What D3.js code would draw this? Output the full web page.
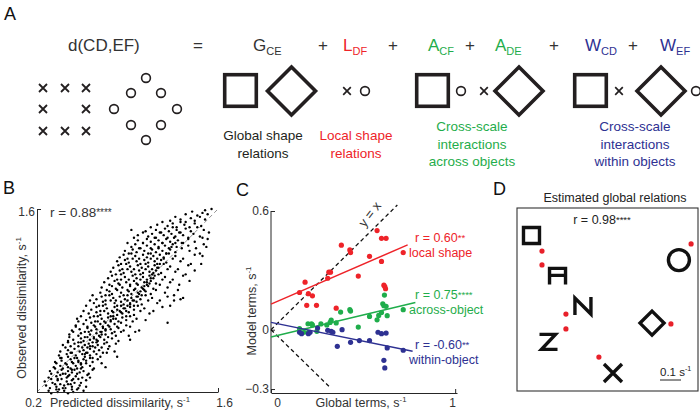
<!DOCTYPE html>
<html><head><meta charset="utf-8">
<script src="https://cdn.jsdelivr.net/npm/d3@7"></script>
<style>body{margin:0;background:#fff}svg{display:block;font-family:"Liberation Sans",Arial,sans-serif}</style>
</head><body><svg id="c" width="700" height="416"></svg>
<script>
// ---------------- DATA ----------------
// Panel B: predicted (x) vs observed (y) dissimilarity, hundredths of s^-1
const bPoints = [
"29,21 31,19 35,22 36,20 40,23 41,21 44,19 47,22 48,20 52,23 56,21",
"27,25 30,23 34,26 35,24 37,22 41,25 42,23 46,26 47,24 51,22 53,25 58,24",
"26,28 31,30 32,27 36,29 38,26 39,30 43,28 44,26 47,29 49,27 52,30 54,27 58,29",
"29,31 31,34 35,32 36,30 38,33 42,34 43,31 45,33 48,30 50,32 51,34 55,31 59,33 61,31",
"30,36 34,38 36,35 39,37 40,34 44,36 46,38 47,35 49,37 53,35 54,38 56,36 60,34 63,37",
"33,39 35,42 38,40 40,38 43,41 44,39 48,42 50,40 51,38 54,41 55,39 58,42 61,40 64,38 73,39",
"34,43 38,46 39,44 42,42 46,45 47,43 49,46 52,44 54,42 56,45 58,44 61,46 63,43 67,45 70,42",
"37,48 39,46 43,49 44,47 47,50 50,48 51,46 55,49 57,47 58,50 61,48 63,46 66,49 69,47 74,50 82,47",
"38,51 42,54 44,52 46,50 49,53 53,51 55,54 56,52 59,50 61,53 64,51 65,54 68,52 71,50 75,53 80,51",
"40,56 44,58 46,55 49,57 52,55 54,58 57,56 59,54 60,57 63,55 66,58 67,56 70,54 72,57 76,55 81,57",
"44,59 45,62 48,60 52,58 54,61 56,59 59,62 61,60 63,58 64,61 67,59 69,62 72,60 74,58 78,61 83,59",
"45,64 48,66 52,63 54,65 57,62 60,66 61,64 64,62 66,65 68,63 70,66 73,64 75,62 78,65 81,63 85,66 91,63",
"47,67 50,70 53,68 57,66 59,69 62,67 65,70 66,68 69,66 71,69 73,67 76,70 77,68 80,66 83,69 87,67 92,70 99,67",
"50,71 52,74 56,72 59,70 62,73 64,71 67,74 69,72 71,70 73,73 75,71 77,74 80,72 82,70 85,73 89,71 94,74 121,73",
"51,76 54,78 58,75 61,77 65,74 67,78 70,76 72,74 75,77 77,75 79,78 81,76 83,74 86,77 89,75 92,78 97,76 104,75",
"56,82 60,80 64,78 66,81 69,79 72,82 75,80 77,78 79,81 82,79 84,82 86,80 89,78 91,81 95,79 100,82 107,80",
"58,86 62,83 66,85 69,82 71,86 74,84 78,82 80,85 82,83 85,86 87,84 89,82 92,85 95,83 98,86 103,84 110,82 117,85",
"61,90 64,88 68,86 71,89 73,87 77,90 80,88 82,86 85,89 87,87 90,90 92,88 95,86 97,89 101,87 106,90 113,88 123,86",
"63,94 66,91 70,93 73,90 76,94 79,92 81,90 84,93 88,91 90,94 93,92 95,90 98,93 100,91 104,94 109,92 115,90 121,93 131,91",
"69,96 73,94 76,97 78,95 82,98 85,96 87,94 91,97 93,95 95,98 98,96 101,94 104,97 108,95 112,98 119,96 126,94",
"70,100 74,98 78,101 81,99 84,102 86,100 90,98 92,101 96,99 98,102 101,100 103,98 106,101 110,99 115,102 121,100 129,98",
"72,104 76,102 80,105 83,103 85,106 89,104 92,102 95,105 97,103 100,106 103,104 105,102 108,105 112,103 117,106 123,104 130,102 138,105",
"75,107 78,109 82,106 85,110 88,108 91,106 94,109 97,107 100,110 102,108 105,106 107,109 110,107 114,110 119,108 125,106 133,109",
"77,112 81,110 84,113 87,111 90,114 93,112 96,110 99,113 102,111 104,114 107,112 109,110 112,113 116,111 121,114 127,112 135,110 142,113",
"79,115 83,117 86,114 89,118 92,116 95,114 98,117 101,115 104,118 106,116 109,114 111,117 114,115 118,118 123,116 129,114 137,117",
"82,120 85,118 88,121 91,119 94,122 97,120 100,118 103,121 106,119 108,122 111,120 113,118 116,121 120,119 125,122 131,120 139,118",
"84,123 87,125 90,122 93,126 96,124 99,122 102,125 105,123 108,126 110,124 113,122 115,125 118,123 122,126 127,124 133,122 142,125 147,118",
"88,128 91,126 94,129 97,127 100,130 103,128 106,126 109,129 112,127 114,130 117,128 120,126 123,129 127,127 132,130 138,128 146,126",
"90,134 93,131 96,133 99,130 102,134 105,132 108,130 111,133 114,131 117,134 119,132 122,130 125,133 128,131 132,134 137,132 143,130 149,133",
"95,138 98,136 102,134 105,137 108,135 111,138 114,136 117,134 120,137 123,135 126,138 129,136 133,134 137,137 142,135 148,138",
"93,144 98,140 102,142 106,139 109,141 112,138 115,142 118,140 121,138 124,141 127,139 130,142 133,140 137,138 141,141 146,139",
"104,143 108,146 112,144 116,142 119,145 122,143 125,146 128,144 131,142 135,145 139,143 144,146 149,144",
"113,148 117,150 121,147 125,149 128,146 131,150 134,148 138,146 142,149 147,147",
"123,151 127,154 131,152 135,150 139,153 142,151 146,154 150,152",
"135,156 140,158 144,155 148,157 152,156 150,159 155,160",
"126,90 133,92 152,137 153,142 151,131 148,124 96,66 92,60",
"66,60 70,64 73,68 79,76 85,81 90,86 94,90 97,93 100,97 103,101 105,104 108,107 110,111 113,115 115,118",
"118,122 120,126 124,131 127,134 57,49 52,43 47,37 44,32 61,55 88,84 92,87 99,95 102,99 107,103 111,109"
].join(" ");

// Panel C: global terms (x) vs model terms (y), s^-1
const cLocal  = [[.155,.188],[.185,.240],[.203,.182],[.225,.171],[.194,.123],[.247,.123],[.314,.291],[.323,.291],[.308,.260],[.382,.427],[.428,.403],[.432,.390],[.474,.271],[.535,.371],[.576,.501],[.600,.462],[.625,.462],[.600,.345],[.613,.225],[.618,.218],[.622,.207],[.718,.390],[.354,.109]];
const cAcross = [[.155,.005],[.179,-.013],[.201,.030],[.220,.030],[.203,-.013],[.225,.024],[.249,-.008],[.271,.029],[.321,.037],[.327,.049],[.354,.034],[.378,.089],[.428,.101],[.432,.094],[.474,.013],[.535,.067],[.576,.050],[.585,.072],[.600,.087],[.607,.131],[.613,.121],[.625,.118],[.631,.071],[.616,.175],[.718,.101],[.303,.024]];
const cWithin = [[.155,-.013],[.166,-.020],[.203,-.020],[.212,-.013],[.253,.008],[.308,-.003],[.327,-.008],[.336,-.013],[.360,-.084],[.386,.000],[.432,-.064],[.480,-.055],[.535,-.055],[.581,-.013],[.600,-.020],[.625,-.017],[.631,-.092],[.613,-.155],[.618,-.193],[.718,-.104]];
const cSeriesNames = ["local shape","across-object","within-object"];
const cSeriesR     = ["r = 0.60","r = 0.75","r = -0.60"];
const cSeriesStars = ["**","****","**"];
const cFitIntercept = [0.129, -0.037, 0.037];
const cFitSlope     = [0.404, 0.223, -0.190];
const cFitEnd       = [0.742, 0.784, 0.769];
const cIdentity = [[0,0],[0.686,0.63]];
const cMirror   = [[0,0],[0.323,-0.294]];

// Panel D: estimated global relations (2D embedding, s^-1)
const dShapes = [
  {s:"square",  x:.069, y:.131},
  {s:"A",       x:.193, y:.321},
  {s:"N",       x:.314, y:.467},
  {s:"Z",       x:.150, y:.640},
  {s:"X",       x:.457, y:.786},
  {s:"diamond", x:.643, y:.548},
  {s:"O",       x:.771, y:.248}
];
const dDots = [[.119,.205],[.119,.271],[.233,.505],[.233,.576],[.390,.710],[.733,.552],[.829,.171]];

// ---------------- STYLE ----------------
const svg = d3.select("#c");
const INK = "#231f20", AX = "#262626";
const RED = "#ee2329", GREEN = "#1fad4b", BLUE = "#2e3192";
const cColors = [RED, GREEN, BLUE];

function txt(x, y, s, o = {}) {
  return svg.append("text").attr("x", x).attr("y", y)
    .attr("font-size", o.size || 12).attr("fill", o.fill || INK)
    .attr("text-anchor", o.anchor || "start").text(s);
}
function supLabel(g, main, sup, size) {
  g.append("tspan").text(main);
  g.append("tspan").attr("font-size", size * 0.62).attr("dy", -size * 0.42).text(sup);
}

// ---------------- PANEL LABELS ----------------
[["A",4,20],["B",3,194],["C",236,196],["D",493,195]].forEach(([l,x,y]) => txt(x,y,l,{size:18,fill:"#111"}));

// ---------------- PANEL A ----------------
const eqY = 51;
txt(68, eqY, "d(CD,EF)", {size:17, fill:"#333"});
txt(198, eqY, "=", {size:17, fill:"#333", anchor:"middle"});
const terms = [["G","CE",253,"#333"],["L","DF",343,RED],["A","CF",428,GREEN],["A","DE",495,GREEN],["W","CD",585,BLUE],["W","EF",660,BLUE]];
terms.forEach(([m,s,x,c]) => {
  const t = txt(x, eqY, "", {size:17, fill:c});
  t.append("tspan").text(m);
  t.append("tspan").attr("font-size", 11).attr("dy", 4).text(s);
});
[323,393,470,554,633].forEach(x => txt(x, eqY, "+", {size:17, fill:"#333", anchor:"middle"}));

const gA = svg.append("g").attr("fill","none").attr("stroke", INK);
function cross(x, y, h, w) { gA.append("path").attr("d", `M${x-h},${y-h}L${x+h},${y+h}M${x-h},${y+h}L${x+h},${y-h}`).attr("stroke-width", w); }
function ring(x, y, r, w) { gA.append("circle").attr("cx",x).attr("cy",y).attr("r",r).attr("stroke-width",w); }
function square(x, y, h, w) { gA.append("rect").attr("x",x-h).attr("y",y-h).attr("width",2*h).attr("height",2*h).attr("stroke-width",w); }
function diamond(x, y, h, w) { gA.append("path").attr("d",`M${x},${y-h}L${x+h},${y}L${x},${y+h}L${x-h},${y}Z`).attr("stroke-width",w).attr("stroke-linejoin","miter"); }

const crossGrid = [[43,88],[65,88],[86,88],[43,109],[86,109],[43,131],[65,131],[86,131]];
crossGrid.forEach(([x,y]) => cross(x,y,4,1.8));
const circleDiamond = [[146,78],[131,93],[161,93],[114,109],[177,109],[131,125],[161,125],[146,140]];
circleDiamond.forEach(([x,y]) => ring(x,y,4.4,1.6));
[240.5, 432.5, 590.5].forEach(x => square(x, 90.5, 15.8, 3.6));
[[291.5,24],[519,24],[661,24]].forEach(([x,h]) => diamond(x, 91, h, 3.6));
[[347,91],[484,91],[619,91]].forEach(([x,y]) => cross(x,y,3.8,1.7));
[[365,91],[461,91],[696,91]].forEach(([x,y]) => ring(x,y,4.4,1.6));

const captions = [
  [263, ["Global shape","relations"], INK, 140],
  [356, ["Local shape","relations"], RED, 140],
  [472, ["Cross-scale","interactions","across objects"], GREEN, 131],
  [635, ["Cross-scale","interactions","within objects"], BLUE, 131]
];
captions.forEach(([x, lines, c, y0]) => lines.forEach((l,i) => txt(x, y0 + i*17.5, l, {size:13.5, fill:c, anchor:"middle"})));

// ---------------- PANEL B ----------------
const bData = bPoints.trim().split(/\s+/).map(p => p.split(",").map(v => +v / 100));
const xB = d3.scaleLinear().domain([0.2, 1.6]).range([37, 218]);
const yB = d3.scaleLinear().domain([0.2, 1.6]).range([392, 209]);
svg.append("line").attr("x1", xB(0.2)).attr("y1", yB(0.2)).attr("x2", xB(1.6)).attr("y2", yB(1.6))
  .attr("stroke","#777").attr("stroke-width",0.8).attr("stroke-dasharray","4,3");
svg.append("g").selectAll("circle").data(bData).join("circle")
  .attr("cx", d => xB(d[0])).attr("cy", d => yB(d[1])).attr("r", 1.2).attr("fill", "#000");

function styleAxis(g) {
  g.select(".domain").attr("stroke", AX).attr("stroke-width", 1);
  g.selectAll(".tick line").attr("stroke", AX);
  g.selectAll("text").attr("fill", "#333").attr("font-size", 12).attr("font-family", '"Liberation Sans",Arial,sans-serif');
}
const bxAxis = svg.append("g").attr("transform","translate(0,392)")
  .call(d3.axisBottom(xB).tickValues([0.2,1.6]).tickFormat(d3.format(".1f")).tickSizeInner(-4).tickSizeOuter(0).tickPadding(6));
styleAxis(bxAxis);
bxAxis.selectAll(".tick text").attr("dx", d => d < 1 ? -4 : 6);
const byAxis = svg.append("g").attr("transform","translate(37,0)")
  .call(d3.axisLeft(yB).tickValues([0.2,1.6]).tickFormat(d => d > 1 ? "1.6" : "").tickSizeInner(-4).tickSizeOuter(0).tickPadding(2));
styleAxis(byAxis);
byAxis.selectAll(".tick text").attr("dy", "0.5em");

const rB = txt(50, 217, "", {size:13.5, fill:"#333"});
rB.append("tspan").text("r = 0.88");
rB.append("tspan").attr("font-size", 10).attr("dy", -1).text("****");
supLabel(txt(120, 407, "", {size:12.5, fill:"#333", anchor:"middle"}), "Predicted dissimilarity, s", "-1", 12.5);
supLabel(svg.append("text").attr("transform","translate(26,308) rotate(-90)").attr("text-anchor","middle")
  .attr("font-size",12.5).attr("fill","#333"), "Observed dissimilarity, s", "-1", 12.5);

// ---------------- PANEL C ----------------
const xC = d3.scaleLinear().domain([0, 1.01]).range([271, 457]);
const yC = d3.scaleLinear().domain([-0.32, 0.6]).range([393, 211]);
const cx = svg.append("g").attr("transform","translate(0,393)")
  .call(d3.axisBottom(xC).tickValues([0,1]).tickFormat(d3.format("d")).tickSizeInner(-4).tickSizeOuter(0).tickPadding(5));
styleAxis(cx);
cx.selectAll(".tick text").attr("dx", d => d === 0 ? 6 : -3);
const cy = svg.append("g").attr("transform","translate(271,0)")
  .call(d3.axisLeft(yC).tickValues([-0.3,0,0.6]).tickFormat(d => d === 0 ? "0" : d3.format(".1f")(d)).tickSizeInner(-4).tickSizeOuter(0).tickPadding(2));
styleAxis(cy);
cy.select(".domain").attr("d", `M0,${yC(0.6)}V393`);

const dashLine = d3.line().x(d => xC(d[0])).y(d => yC(d[1]));
[cIdentity, cMirror].forEach(seg => svg.append("path").attr("d", dashLine(seg)).attr("fill","none")
  .attr("stroke","#111").attr("stroke-width",1.3).attr("stroke-dasharray","4,3"));
svg.append("text").attr("transform", `translate(${xC(0.555)},${yC(0.57)}) rotate(-52)`)
  .attr("text-anchor","middle").attr("font-size",13).attr("fill","#333").text("y = x");

[cLocal, cAcross, cWithin].forEach((pts, i) => {
  svg.append("line").attr("x1", xC(0)).attr("y1", yC(cFitIntercept[i]))
    .attr("x2", xC(cFitEnd[i])).attr("y2", yC(cFitIntercept[i] + cFitSlope[i]*cFitEnd[i]))
    .attr("stroke", cColors[i]).attr("stroke-width", 1.5);
  svg.append("g").selectAll("circle").data(pts).join("circle")
    .attr("cx", d => xC(d[0])).attr("cy", d => yC(d[1])).attr("r", 2.6).attr("fill", cColors[i]);
});
const cAnnY = [242, 299, 349];
cSeriesNames.forEach((n, i) => {
  const t = txt(415, cAnnY[i], "", {size:12.5, fill:cColors[i]});
  t.append("tspan").text(cSeriesR[i]);
  t.append("tspan").attr("font-size", 9.5).attr("dy", -1).text(cSeriesStars[i]);
  txt(409, cAnnY[i] + 15, n, {size:12.5, fill:cColors[i]});
});
supLabel(txt(361, 407, "", {size:12.5, fill:"#333", anchor:"middle"}), "Global terms, s", "-1", 12.5);
supLabel(svg.append("text").attr("transform","translate(256,311) rotate(-90)").attr("text-anchor","middle")
  .attr("font-size",12.5).attr("fill","#333"), "Model terms, s", "-1", 12.5);

// ---------------- PANEL D ----------------
const sD = d3.scaleLinear().domain([0, 1]).range([0, 210]);
const D0 = [517, 208];
svg.append("rect").attr("x", D0[0]).attr("y", D0[1]).attr("width", 181).attr("height", 183)
  .attr("fill","none").attr("stroke","#333").attr("stroke-width",1.1);
txt(615, 202, "Estimated global relations", {size:12.5, fill:"#222", anchor:"middle"});
const rD = txt(602, 224, "", {size:12.5, fill:"#222", anchor:"middle"});
rD.append("tspan").text("r = 0.98");
rD.append("tspan").attr("font-size", 9.5).attr("dy", -1).text("****");

const gD = svg.append("g").attr("fill","none").attr("stroke","#111").attr("stroke-width",3.4);
const shapePath = {
  square:  "M-8,-8H8V8H-8Z",
  diamond: "M0,-12L12,0L0,12L-12,0Z",
  A:       "M-8,9V-7H8V9M-8,0H8",
  N:       "M-8,9V-8L8,8V-9",
  Z:       "M-9,-8H7L-7,7H9",
  X:       "M-9,-9L9,9M-9,9L9,-9"
};
dShapes.forEach(d => {
  const px = D0[0] + sD(d.x), py = D0[1] + sD(d.y);
  if (d.s === "O") gD.append("circle").attr("cx", px).attr("cy", py).attr("r", 10.5);
  else gD.append("path").attr("d", shapePath[d.s]).attr("transform", `translate(${px},${py})`).attr("stroke-linejoin","miter");
});
svg.append("g").selectAll("circle").data(dDots).join("circle")
  .attr("cx", d => D0[0] + sD(d[0])).attr("cy", d => D0[1] + sD(d[1])).attr("r", 2.6).attr("fill", "#e8202a");
const sb = txt(660, 376, "", {size:11.5, fill:"#222"});
supLabel(sb, "0.1 s", "-1", 11.5);
svg.append("line").attr("x1", 660).attr("x2", 660 + sD(0.1)).attr("y1", 380).attr("y2", 380)
  .attr("stroke","#222").attr("stroke-width",1);
</script></body></html>
